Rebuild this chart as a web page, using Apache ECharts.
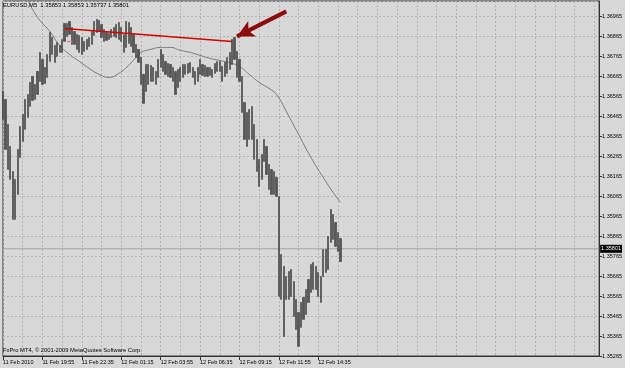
<!DOCTYPE html>
<html><head><meta charset="utf-8">
<script src="https://cdn.jsdelivr.net/npm/echarts@6/dist/echarts.min.js"></script>
<style>html,body{margin:0;padding:0;background:#d8d8d8}#c{width:625px;height:368px}</style>
</head><body><div id="c"></div>
<script>
// x-axis tick labels (one every 16 ten-minute slots)
const tickLabels = ['11 Feb 2010','11 Feb 19:55','11 Feb 22:35','12 Feb 01:15','12 Feb 03:55','12 Feb 06:35','12 Feb 09:15','12 Feb 11:55','12 Feb 14:35'];
// price highs / lows per 10-minute slot
const highs = [1.36588,1.36548,1.36423,1.36313,1.36188,1.36148,1.36298,1.36413,1.36473,1.36548,
1.36573,1.36633,1.36663,1.36623,1.36688,1.36783,1.36748,1.36708,1.36773,1.36883,
1.36858,1.36818,1.36833,1.36818,1.36848,1.36928,1.36928,1.36938,1.36908,1.36888,
1.36873,1.36868,1.36858,1.36838,1.36848,1.36858,1.36888,1.36938,1.36948,1.36943,
1.36923,1.36898,1.36883,1.36878,1.36898,1.36908,1.36923,1.36933,1.36908,1.36873,
1.36938,1.36933,1.36908,1.36873,1.36823,1.36798,1.36758,1.36673,1.36723,1.36723,
1.36718,1.36708,1.36688,1.36748,1.36798,1.36773,1.36738,1.36728,1.36723,1.36708,
1.36688,1.36698,1.36708,1.36723,1.36723,1.36728,1.36733,1.36708,1.36688,1.36708,
1.36748,1.36723,1.36718,1.36708,1.36708,1.36698,1.36728,1.36738,1.36738,1.36713,
1.36733,1.36758,1.36783,1.36848,1.36858,1.36788,1.36748,1.36663,1.36533,1.36483,
1.36498,1.36513,1.36423,1.36348,1.36248,1.36273,1.36348,1.36313,1.36223,1.36198,
1.36188,1.36158,1.36063,1.35773,1.35713,1.35663,1.35688,1.35698,1.35638,1.35548,
1.35483,1.35533,1.35558,1.35598,1.35648,1.35723,1.35733,1.35713,1.35683,1.35663,
1.35798,1.35798,1.35863,1.35998,1.35973,1.35933,1.35883,1.35853];
const lows = [1.36448,1.36298,1.36198,1.36148,1.35948,1.35948,1.36073,1.36258,1.36338,1.36398,
1.36458,1.36513,1.36543,1.36548,1.36573,1.36638,1.36623,1.36628,1.36658,1.36738,
1.36773,1.36733,1.36763,1.36783,1.36783,1.36838,1.36863,1.36873,1.36823,1.36823,
1.36798,1.36783,1.36773,1.36788,1.36798,1.36813,1.36823,1.36868,1.36883,1.36888,
1.36858,1.36838,1.36843,1.36848,1.36858,1.36863,1.36858,1.36848,1.36838,1.36783,
1.36808,1.36828,1.36813,1.36783,1.36758,1.36733,1.36623,1.36528,1.36588,1.36623,
1.36638,1.36638,1.36623,1.36658,1.36708,1.36688,1.36673,1.36663,1.36658,1.36638,
1.36573,1.36608,1.36638,1.36658,1.36673,1.36678,1.36683,1.36658,1.36623,1.36638,
1.36673,1.36668,1.36663,1.36663,1.36668,1.36658,1.36678,1.36688,1.36688,1.36638,
1.36663,1.36678,1.36698,1.36723,1.36748,1.36658,1.36638,1.36483,1.36348,1.36313,
1.36348,1.36348,1.36248,1.36188,1.36113,1.36148,1.36238,1.36173,1.36098,1.36073,
1.36073,1.36063,1.35563,1.35548,1.35363,1.35548,1.35548,1.35563,1.35463,1.35398,
1.35313,1.35408,1.35448,1.35473,1.35533,1.35583,1.35598,1.35598,1.35563,1.35533,
1.35663,1.35683,1.35698,1.35833,1.35848,1.35813,1.35788,1.35737];
// moving average (slot, value)
const maSlots = [8,10,12,15,19,23,27,31,35,39,43,47,51,54,56,60,64,68,72,76,80,84,88,93,96,100,104,108,111,115,120,125,130,134,137];
const maValues = [1.37088,1.37048,1.36998,1.36943,1.36888,1.36818,1.36773,1.36738,1.36703,1.36673,1.36658,1.36678,1.36718,1.36758,1.36783,1.36798,1.36808,1.36808,1.36793,1.36783,1.36768,1.36753,1.36743,1.36728,1.36713,1.36673,1.36633,1.36603,1.36573,1.36488,1.36373,1.36258,1.36158,1.36083,1.36033];
const lastPrice = 1.35801;
const trendSlots = [25, 93], trendValues = [1.36903, 1.36838];
const dashSlots = [26, 28], dashValues = [1.36838, 1.36838];
const arrowSlots = [115, 95], arrowValues = [1.36988, 1.36863];
const headerText = 'EURUSD,M5  1.35853 1.35853 1.35737 1.35801';
const footerText = 'FxPro MT4, \u00a9 2001-2009 MetaQuotes Software Corp.';
const SLOTS = 243;
const categories = Array.from({length: SLOTS}, (_, i) => i);
const ohlc = highs.map((h, i) => [lows[i], h, lows[i], h]);

const font = '"Liberation Sans", Arial, sans-serif';
const chart = echarts.init(document.getElementById('c'));
const showTick = (i) => i % 16 === 0 && i / 16 < tickLabels.length;
chart.setOption({
  animation: false,
  backgroundColor: '#d8d8d8',
  title: [
    {text: headerText, left: 3, top: 2, padding: 0, textStyle: {fontSize: 5.8, fontWeight: 'normal', color: '#000', fontFamily: font}},
    {text: footerText, left: 3, top: 347, padding: 0, textStyle: {fontSize: 5.8, fontWeight: 'normal', color: '#000', fontFamily: font}}
  ],
  grid: {left: 2, right: 24, top: 1, bottom: 12, show: true, borderColor: '#333', borderWidth: 1, backgroundColor: '#d8d8d8'},
  xAxis: {
    type: 'category', data: categories, boundaryGap: false,
    axisLine: {show: true, lineStyle: {color: '#333'}},
    axisTick: {show: true, interval: showTick, length: 4, lineStyle: {color: '#333'}},
    axisLabel: {interval: showTick, formatter: (v) => tickLabels[v / 16] || '', align: 'left', margin: 3, fontSize: 5.5, color: '#000', fontFamily: font},
    splitLine: {show: true, interval: 7, lineStyle: {color: '#b3b3b3', type: [2, 2]}}
  },
  yAxis: {
    type: 'value', position: 'right', min: 1.35265, max: 1.3704, interval: 0.001,
    axisLine: {show: true, lineStyle: {color: '#333'}},
    axisTick: {show: true, length: 3, lineStyle: {color: '#333'}},
    axisLabel: {formatter: (v) => v.toFixed(5), fontSize: 5.5, margin: 3, showMaxLabel: false, color: '#000', fontFamily: font},
    splitLine: {show: true, lineStyle: {color: '#b3b3b3', type: [2, 2]}}
  },
  series: [
    {
      type: 'line', data: [[0, lastPrice], [SLOTS - 1, lastPrice]], symbol: 'none', z: 1, silent: true,
      lineStyle: {color: '#a4a4a4', width: 1},
      endLabel: {show: true, distance: 1, formatter: () => lastPrice.toFixed(5), backgroundColor: '#000', color: '#fff', fontSize: 5.5, padding: [1, 1, 1, 1], fontFamily: font}
    },
    {
      type: 'line', data: maSlots.map((s, i) => [s, maValues[i]]), smooth: true, symbol: 'none', z: 1,
      lineStyle: {color: '#7a7a7a', width: 1}
    },
    {
      type: 'candlestick', data: ohlc, barWidth: 1.7, z: 2,
      itemStyle: {color: '#555555', color0: '#555555', borderColor: '#404040', borderColor0: '#404040', borderWidth: 0.6}
    },
    {
      type: 'line', data: trendSlots.map((s, i) => [s, trendValues[i]]), symbol: 'none', z: 3,
      lineStyle: {color: '#d60000', width: 1.5},
      markLine: {
        silent: true, symbol: ['none', 'arrow'], symbolSize: [13, 17],
        lineStyle: {color: '#8c0c0c', width: 4, type: 'solid'},
        label: {show: false},
        data: [[{coord: [arrowSlots[0], arrowValues[0]]}, {coord: [arrowSlots[1], arrowValues[1]]}]]
      }
    },
    {
      type: 'line', data: dashSlots.map((s, i) => [s, dashValues[i]]), symbol: 'none', z: 3,
      lineStyle: {color: '#e58a8a', width: 1.5}
    }
  ]
});
</script>
</body></html>
